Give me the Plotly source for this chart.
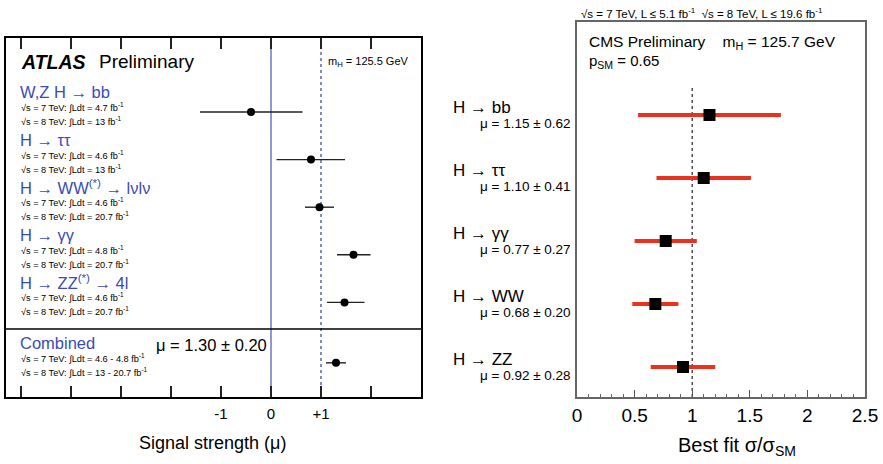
import plotly.graph_objects as go

# ---------------- data ----------------
# ATLAS signal strengths (mH = 125.5 GeV)
atlas_channels = [
    "W,Z H → bb",
    "H → ττ",
    "H → WW<sup>(*)</sup> → lνlν",
    "H → γγ",
    "H → ZZ<sup>(*)</sup> → 4l",
    "Combined",
]
atlas_mu = [-0.4, 0.8, 0.97, 1.65, 1.47, 1.30]
atlas_err_lo = [1.02, 0.69, 0.29, 0.33, 0.35, 0.20]
atlas_err_hi = [1.03, 0.68, 0.29, 0.34, 0.40, 0.20]
atlas_lumi7 = ["4.7", "4.6", "4.6", "4.8", "4.6", "4.6 - 4.8"]
atlas_lumi8 = ["13", "13", "20.7", "20.7", "20.7", "13 - 20.7"]
atlas_tickvals = [-5, -4, -3, -2, -1, 0, 1, 2]
atlas_ticktext = ["", "", "", "", "-1", "0", "+1", ""]

# CMS best-fit sigma/sigma_SM (mH = 125.7 GeV)
cms_channels = ["H → bb", "H → ττ", "H → γγ", "H → WW", "H → ZZ"]
cms_mu = [1.15, 1.10, 0.77, 0.68, 0.92]
cms_err = [0.62, 0.41, 0.27, 0.20, 0.28]
cms_tickvals = [0, 0.5, 1, 1.5, 2, 2.5]
cms_ticktext = ["0", "0.5", "1", "1.5", "2", "2.5"]

# ---------------- layout helpers ----------------
W, H = 883, 464
FONT = "Liberation Sans, Arial, sans-serif"
BLUE = "#3a4cb4"


def py(p):
    return 1 - p / H


# ATLAS panel geometry (pixels)
A_LEFT, A_RIGHT, A_TOP, A_BOT = 6, 421, 38, 397
A_ROW0, A_ROWSTEP = 112, 47.6
COMBINED_GAP = 0.27
atlas_y = [i for i in range(5)] + [5 + COMBINED_GAP]
a_yrange = [(A_BOT - A_ROW0) / A_ROWSTEP, (A_TOP - A_ROW0) / A_ROWSTEP]

# CMS panel geometry (pixels)
C_LEFT, C_RIGHT, C_TOP, C_BOT = 577, 865, 22, 397
C_ROW0, C_ROWSTEP = 115, 63
cms_y = list(range(len(cms_channels)))
c_yrange = [(C_BOT - C_ROW0) / C_ROWSTEP, (C_TOP - C_ROW0) / C_ROWSTEP]

fig = go.Figure()

# ATLAS points
fig.add_trace(go.Scatter(
    x=atlas_mu, y=atlas_y, mode="markers",
    marker=dict(symbol="circle", size=8, color="black"),
    error_x=dict(type="data", symmetric=False, array=atlas_err_hi,
                 arrayminus=atlas_err_lo, thickness=1.4, width=0, color="#222"),
    xaxis="x", yaxis="y", showlegend=False, hoverinfo="skip",
))

# CMS points
fig.add_trace(go.Scatter(
    x=cms_mu, y=cms_y, mode="markers",
    marker=dict(symbol="square", size=12, color="black"),
    error_x=dict(type="data", array=cms_err, thickness=4, width=0, color="#e8321e"),
    xaxis="x2", yaxis="y2", showlegend=False, hoverinfo="skip",
))

shapes = [
    # mu = 0 (solid) and mu = 1 (dotted) reference lines, ATLAS
    dict(type="line", xref="x", yref="y domain", x0=0, x1=0, y0=0, y1=1,
         line=dict(color="#7480c6", width=1.6), layer="below"),
    dict(type="line", xref="x", yref="y domain", x0=1, x1=1, y0=0, y1=1,
         line=dict(color="#5566bb", width=1.5, dash="dot"), layer="below"),
    # separator above the combined result
    dict(type="line", xref="x domain", yref="y", x0=0, x1=1,
         y0=(329 - A_ROW0) / A_ROWSTEP, y1=(329 - A_ROW0) / A_ROWSTEP,
         line=dict(color="black", width=1.3)),
    # SM expectation, CMS
    dict(type="line", xref="x2", yref="y2 domain", x0=1, x1=1, y0=0,
         y1=(C_BOT - 85) / (C_BOT - C_TOP),
         line=dict(color="#333", width=1.3, dash="dot"), layer="below"),
]

ann = []


def text(x, y, s, size, color="black", xanchor="left", yref="paper"):
    ann.append(dict(x=x, y=y, xref="paper", yref=yref, text=s, showarrow=False,
                    xanchor=xanchor, yanchor="middle",
                    font=dict(family=FONT, size=size, color=color)))


# ATLAS header
text(19 / W, py(62), "<b><i>ATLAS</i></b>", 19.5)
text(97 / W, py(62), "Preliminary", 19)
text(326 / W, py(62), "m<sub>H</sub> = 125.5 GeV", 11)

# ATLAS channel labels
for i, name in enumerate(atlas_channels):
    yc = atlas_y[i]
    text(18 / W, yc - 20 / A_ROWSTEP, name, 16.5, color=BLUE, yref="y")
    text(19 / W, yc - 5 / A_ROWSTEP,
         "√s = 7 TeV: ∫Ldt = " + atlas_lumi7[i] + " fb<sup>-1</sup>", 9.2, yref="y")
    text(19 / W, yc + 9 / A_ROWSTEP,
         "√s = 8 TeV: ∫Ldt = " + atlas_lumi8[i] + " fb<sup>-1</sup>", 9.2, yref="y")

text(154 / W, py(345), "μ = %.2f ± %.2f" % (atlas_mu[-1], atlas_err_lo[-1]), 16.5)
text(212 / W, py(443), "Signal strength (μ)", 18, xanchor="center")

# CMS header
text(579 / W, py(13),
     "√s = 7 TeV, L ≤ 5.1 fb<sup>-1</sup>  √s = 8 TeV, L ≤ 19.6 fb<sup>-1</sup>", 11.5)
text(587 / W, py(42), "CMS Preliminary    m<sub>H</sub> = 125.7 GeV", 15.5)
text(587 / W, py(61), "p<sub>SM</sub> = 0.65", 15)

for i, name in enumerate(cms_channels):
    yc = cms_y[i]
    text(451 / W, yc - 8 / C_ROWSTEP, name, 17, yref="y2")
    text(573 / W, yc + 8 / C_ROWSTEP, "μ = %.2f ± %.2f" % (cms_mu[i], cms_err[i]),
         13.5, xanchor="right", yref="y2")

text(737 / W, py(446), "Best fit σ/σ<sub>SM</sub>", 20, xanchor="center")

fig.update_layout(
    width=W, height=H,
    margin=dict(l=0, r=0, t=0, b=0, autoexpand=False),
    paper_bgcolor="white", plot_bgcolor="white",
    font=dict(family=FONT),
    shapes=shapes, annotations=ann,
    xaxis=dict(
        domain=[A_LEFT / W, A_RIGHT / W], range=[-5.3, 3.0],
        tickvals=atlas_tickvals, ticktext=atlas_ticktext,
        ticks="inside", ticklen=11, tickwidth=1.5, tickcolor="#222",
        showline=True, linecolor="black", linewidth=1.5, mirror="ticks",
        showgrid=False, zeroline=False, automargin=False,
        tickfont=dict(family=FONT, size=15, color="black"),
        ticklabelstandoff=2,
    ),
    yaxis=dict(
        domain=[py(A_BOT), py(A_TOP)], range=a_yrange, automargin=False,
        showline=True, linecolor="black", linewidth=1.5, mirror=True,
        showgrid=False, zeroline=False, showticklabels=False, ticks="",
    ),
    xaxis2=dict(
        domain=[C_LEFT / W, C_RIGHT / W], range=[0, 2.5], anchor="y2",
        tickvals=cms_tickvals, ticktext=cms_ticktext, tickangle=0,
        ticks="inside", ticklen=7, tickwidth=1.2, tickcolor="#555",
        minor=dict(dtick=0.1, tick0=0, ticks="inside", ticklen=3.5, tickcolor="#666"),
        showline=True, linecolor="#666", linewidth=1.6, mirror=True,
        showgrid=False, zeroline=False, automargin=False,
        tickfont=dict(family=FONT, size=19, color="black"),
        ticklabelstandoff=0,
    ),
    yaxis2=dict(
        domain=[py(C_BOT), py(C_TOP)], range=c_yrange, anchor="x2",
        automargin=False,
        showline=True, linecolor="#666", linewidth=1.6, mirror=True,
        showgrid=False, zeroline=False, showticklabels=False, ticks="",
    ),
)

fig.write_html("out.html")
